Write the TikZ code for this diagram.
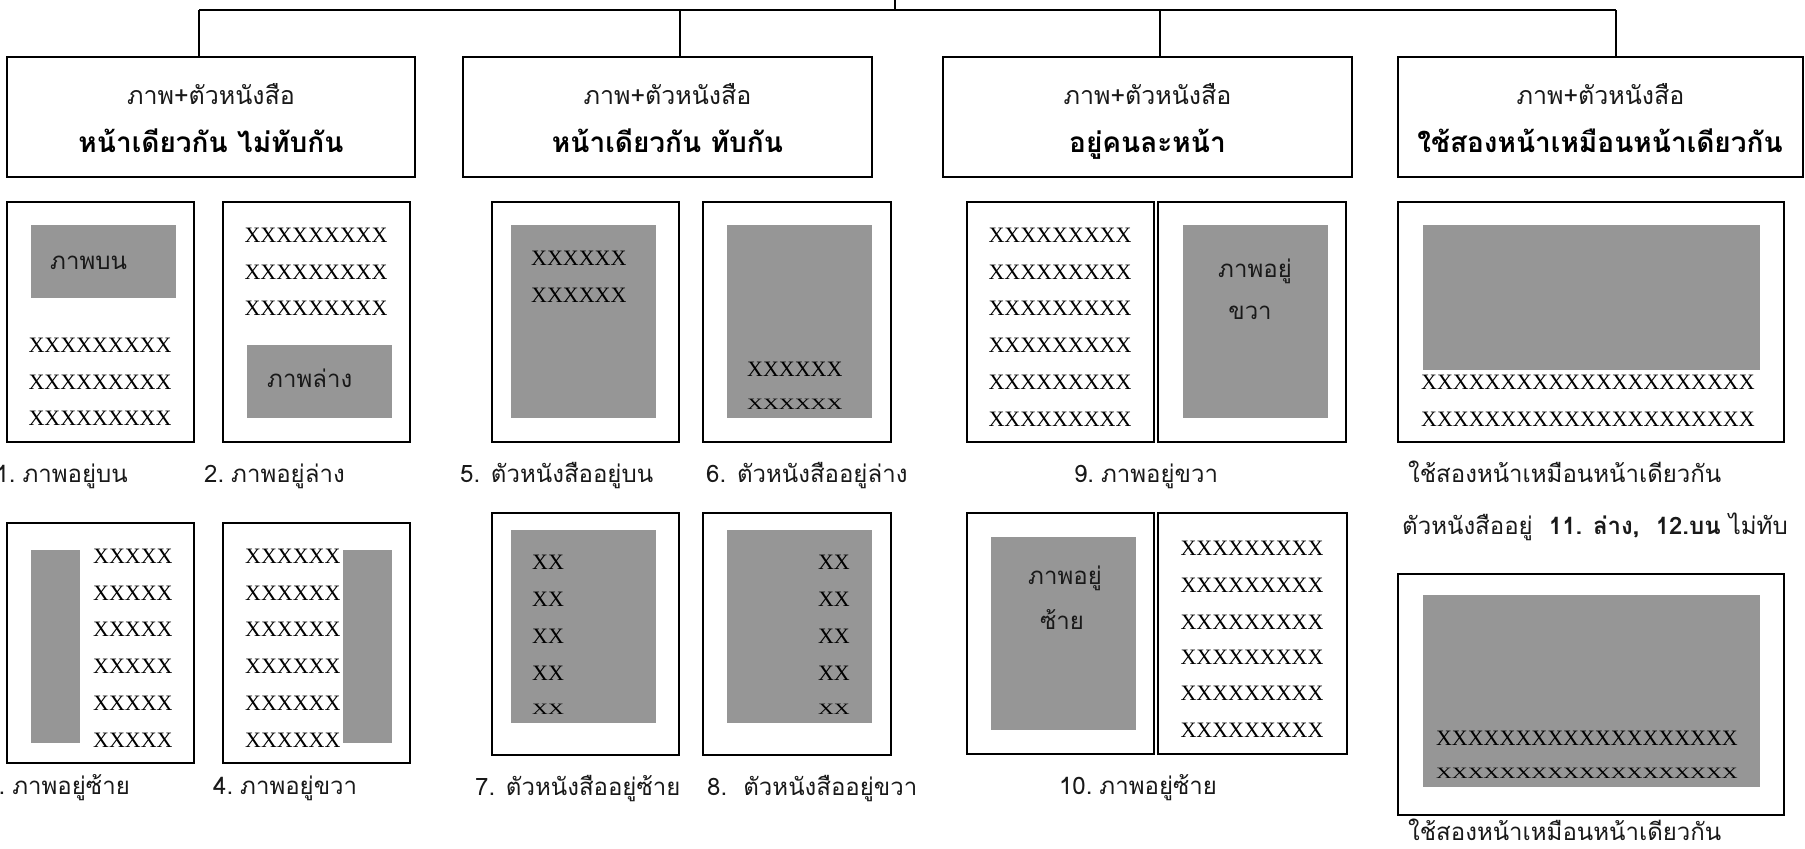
\documentclass[tikz,border=0pt]{standalone}
\usepackage{fontspec}
\newfontfamily\thaifont[Script=Thai]{Loma}
\newfontfamily\xfont{Liberation Serif}
\definecolor{picgray}{RGB}{150,150,150}
\definecolor{ink}{RGB}{25,25,25}
\newcommand\nsp{\kern7bp}
\begin{document}
\begin{tikzpicture}[x=1bp,y=-1bp,
  hbox/.style={draw, line width=1.3bp, inner sep=0pt},
  conn/.style={line width=1.3bp},
  page/.style={line width=2.8bp},
  pic/.style={fill=picgray},
  xs/.style={inner sep=0pt, font=\xfont\fontsize{22bp}{26bp}\selectfont},
  th/.style={inner sep=0pt, text=ink, font=\thaifont\fontsize{24bp}{28bp}\selectfont},
  thh/.style={inner sep=0pt, text=ink, font=\thaifont\fontsize{25bp}{29bp}\selectfont},
  thb/.style={inner sep=0pt, font=\thaifont\bfseries\fontsize{28bp}{32bp}\selectfont}]
\useasboundingbox (0,0) rectangle (1805,849);
% header boxes
\node[hbox, minimum width=408bp, minimum height=120bp] (hA) at (211,117) {};
\node[hbox, minimum width=409bp, minimum height=120bp] (hB) at (667.5,117) {};
\node[hbox, minimum width=409bp, minimum height=120bp] (hC) at (1147.5,117) {};
\node[hbox, minimum width=405bp, minimum height=120bp] (hD) at (1600.5,117) {};
\node[thh, anchor=base] (hA1) at (211,104) {ภาพ+ตัวหนังสือ};
\node[thb, anchor=base] (hA2) at (211,152) {หน้าเดียวกัน  ไม่ทับกัน};
\node[thh, anchor=base] (hB1) at (667.5,104) {ภาพ+ตัวหนังสือ};
\node[thb, anchor=base] (hB2) at (667.5,152) {หน้าเดียวกัน  ทับกัน};
\node[thh, anchor=base] (hC1) at (1147.5,104) {ภาพ+ตัวหนังสือ};
\node[thb, anchor=base] (hC2) at (1147.5,152) {อยู่คนละหน้า};
\node[thh, anchor=base] (hD1) at (1600.5,104) {ภาพ+ตัวหนังสือ};
\node[thb, anchor=base] (hD2) at (1600,152) {ใช้สองหน้าเหมือนหน้าเดียวกัน};
% connectors
\coordinate (root) at (895,0);
\coordinate (bus) at (895,10);
\coordinate (tA) at (199,10);
\coordinate (tB) at (680,10);
\coordinate (tC) at (1160,10);
\coordinate (tD) at (1616,10);
\draw[conn] (root) -- (bus);
\draw[conn] (tA) -- (tD);
\draw[conn] (tA) -- (tA |- hA.north);
\draw[conn] (tB) -- (tB |- hB.north);
\draw[conn] (tC) -- (tC |- hC.north);
\draw[conn] (tD) -- (tD |- hD.north);
% ---------- panel 1
\draw[page] (7,202) rectangle (194,442);
\fill[pic] (31,225) rectangle (176,298);
\node[th, anchor=base west] (l1) at (50,269) {ภาพบน};
\node[xs, anchor=base] (x1a) at (100,352) {XXXXXXXXX};
\node[xs, anchor=base] (x1b) at (100,389) {XXXXXXXXX};
\node[xs, anchor=base] (x1c) at (100,425) {XXXXXXXXX};
\node[th, anchor=base east] (c1) at (128,482) {1.\nsp ภาพอยู่บน};
% ---------- panel 2
\draw[page] (223,202) rectangle (410,442);
\node[xs, anchor=base] (x2a) at (316,242) {XXXXXXXXX};
\node[xs, anchor=base] (x2b) at (316,279) {XXXXXXXXX};
\node[xs, anchor=base] (x2c) at (316,315) {XXXXXXXXX};
\fill[pic] (247,345) rectangle (392,418);
\node[th, anchor=base west] (l2) at (267,387) {ภาพล่าง};
\node[th, anchor=base west] (c2) at (204,482) {2.\nsp ภาพอยู่ล่าง};
% ---------- panel 3
\draw[page] (7,523) rectangle (194,763);
\fill[pic] (31,550) rectangle (80,743);
\foreach \y [count=\i] in {556,593,629,666,703,740}
  \node[xs, anchor=base west] (x3-\i) at (93,\y+7) {XXXXX};
\node[th, anchor=base east] (c3) at (130,794) {3.\nsp ภาพอยู่ซ้าย};
% ---------- panel 4
\draw[page] (223,523) rectangle (410,763);
\fill[pic] (343,550) rectangle (392,743);
\foreach \y [count=\i] in {556,593,629,666,703,740}
  \node[xs, anchor=base west] (x4-\i) at (245,\y+7) {XXXXXX};
\node[th, anchor=base west] (c4) at (213,794) {4.\nsp ภาพอยู่ขวา};
% ---------- panel 5
\draw[page] (492,202) rectangle (679,442);
\fill[pic] (511,225) rectangle (656,418);
\node[xs, anchor=base west] (x5a) at (531,265) {XXXXXX};
\node[xs, anchor=base west] (x5b) at (531,302) {XXXXXX};
\node[th, anchor=base west] (c5) at (460,482) {5. ตัวหนังสืออยู่บน};
% ---------- panel 6
\draw[page] (703,202) rectangle (891,442);
\fill[pic] (727,225) rectangle (872,418);
\node[xs, anchor=base west] (x6a) at (747,376) {XXXXXX};
\node[xs, anchor=base west] (x6b) at (747,409) {\scalebox{1}[0.72]{XXXXXX}};
\node[th, anchor=base west] (c6) at (706,482) {6. ตัวหนังสืออยู่ล่าง};
% ---------- panel 7
\draw[page] (492,513) rectangle (679,755);
\fill[pic] (511,530) rectangle (656,723);
\foreach \y [count=\i] in {562,599,636,673}
  \node[xs, anchor=base west] (x7-\i) at (532,\y+7) {XX};
\node[xs, anchor=base west] (x7-5) at (532,714) {\scalebox{1}[0.72]{XX}};
\node[th, anchor=base west] (c7) at (475,795) {7. ตัวหนังสืออยู่ซ้าย};
% ---------- panel 8
\draw[page] (703,513) rectangle (891,755);
\fill[pic] (727,530) rectangle (872,723);
\foreach \y [count=\i] in {562,599,636,673}
  \node[xs, anchor=base east] (x8-\i) at (850,\y+7) {XX};
\node[xs, anchor=base east] (x8-5) at (850,714) {\scalebox{1}[0.72]{XX}};
\node[th, anchor=base west] (c8) at (707,795) {8.\ \ ตัวหนังสืออยู่ขวา};
% ---------- panel 9
\draw[page] (967,202) rectangle (1154,442);
\draw[page] (1158,202) rectangle (1346,442);
\foreach \y [count=\i] in {235,272,308,345,382,419}
  \node[xs, anchor=base] (x9-\i) at (1060,\y+7) {XXXXXXXXX};
\fill[pic] (1183,225) rectangle (1328,418);
\node[th, anchor=base] (l9a) at (1255,277) {ภาพอยู่};
\node[th, anchor=base] (l9b) at (1250,319) {ขวา};
\node[th, anchor=base] (c9) at (1146,482) {9.\nsp ภาพอยู่ขวา};
% ---------- panel 10
\draw[page] (967,513) rectangle (1154,754);
\draw[page] (1158,513) rectangle (1347,754);
\fill[pic] (991,537) rectangle (1136,730);
\node[th, anchor=base] (l10a) at (1065,584) {ภาพอยู่};
\node[th, anchor=base] (l10b) at (1062,629) {ซ้าย};
\foreach \y [count=\i] in {548,585,622,657,693,730}
  \node[xs, anchor=base] (x10-\i) at (1252,\y+7) {XXXXXXXXX};
\node[th, anchor=base] (c10) at (1138,794) {10.\nsp ภาพอยู่ซ้าย};
% ---------- panel 11
\draw[page] (1398,202) rectangle (1784,442);
\fill[pic] (1423,225) rectangle (1760,370);
\node[xs, anchor=base] (x11a) at (1588,389) {XXXXXXXXXXXXXXXXXXXXX};
\node[xs, anchor=base] (x11b) at (1588,426) {XXXXXXXXXXXXXXXXXXXXX};
\node[th, anchor=base west] (c11) at (1408,482) {ใช้สองหน้าเหมือนหน้าเดียวกัน};
\node[th, anchor=base west] (c11b) at (1402,534) {ตัวหนังสืออยู่\ \ {\bfseries 11. ล่าง,}\ \ {\bfseries 12.บน} ไม่ทับ};
% ---------- panel 12
\draw[page] (1398,574) rectangle (1784,815);
\fill[pic] (1423,595) rectangle (1760,787);
\node[xs, anchor=base] (x12a) at (1587,745) {XXXXXXXXXXXXXXXXXXX};
\node[xs, anchor=base] (x12b) at (1587,778) {\scalebox{1}[0.72]{XXXXXXXXXXXXXXXXXXX}};
\node[th, anchor=base west] (c12) at (1408,840) {ใช้สองหน้าเหมือนหน้าเดียวกัน};
\end{tikzpicture}
\end{document}
